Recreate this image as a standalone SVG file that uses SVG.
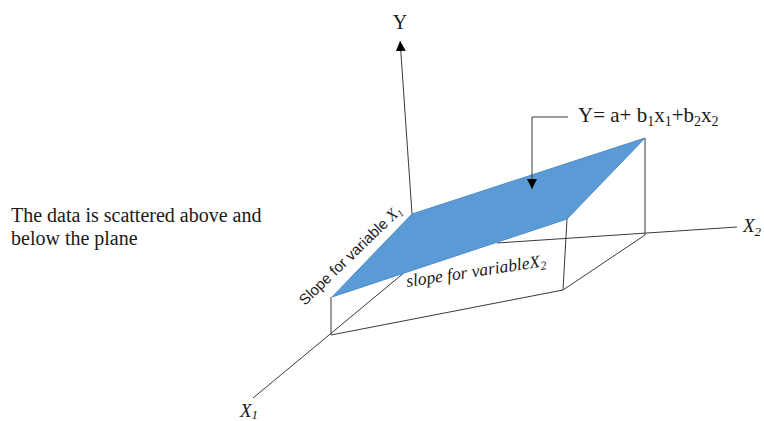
<svg xmlns="http://www.w3.org/2000/svg" width="764" height="421" viewBox="0 0 764 421">
  <style>
    .ln { stroke: #3a3a3a; stroke-width: 1; fill: none; }
    .serif { font-family: "Liberation Serif", "Times New Roman", serif; fill: #1a1a1a; }
    .ital { font-family: "Liberation Serif", "Times New Roman", serif; font-style: italic; fill: #1a1a1a; }
    .sans { font-family: "Liberation Sans", Arial, sans-serif; fill: #1a1a1a; }
    .plane { fill: #5B9BD5; stroke: #4d8cc8; stroke-width: 1; stroke-linejoin: round; }
  </style>
  <defs>
    <marker id="arrow" viewBox="0 0 10 10" refX="10" refY="5" markerWidth="10" markerHeight="10" markerUnits="userSpaceOnUse" orient="auto">
      <path d="M0,0 L10,5 L0,10 Z" fill="#000"/>
    </marker>
  </defs>
  <rect width="764" height="421" fill="#ffffff"/>

  <g id="connectors">
    <!-- Y axis -->
    <line class="ln" x1="412" y1="214" x2="400.1" y2="41" marker-end="url(#arrow)"/>
    <!-- X1 axis -->
    <line class="ln" x1="405" y1="272" x2="253" y2="398"/>
    <!-- X2 axis -->
    <line class="ln" x1="497" y1="243" x2="737" y2="227"/>
    <!-- box lines -->
    <line class="ln" x1="331" y1="297" x2="331" y2="335"/>
    <line class="ln" x1="331" y1="335" x2="563" y2="290"/>
    <line class="ln" x1="567" y1="219" x2="563" y2="290"/>
    <line class="ln" x1="563" y1="290" x2="645" y2="235"/>
    <line class="ln" x1="645" y1="138" x2="645" y2="235"/>
  </g>

  <g id="plane">
    <polygon class="plane" points="332,297 412,214 645,138 567,219"/>
  </g>

  <g id="pointer">
    <polyline class="ln" points="568,117 532,117 532,189" marker-end="url(#arrow)"/>
  </g>

  <g id="label-y">
    <text class="serif" x="400" y="29" font-size="20" text-anchor="middle">Y</text>
  </g>
  <g id="label-x2">
    <text class="ital" x="743" y="232" font-size="19">X<tspan font-size="13" dy="4">2</tspan></text>
  </g>
  <g id="label-x1">
    <text class="ital" x="240" y="417" font-size="19">X<tspan font-size="13" dy="2">1</tspan></text>
  </g>
  <g id="equation">
    <text class="serif" x="578" y="122" font-size="21">Y= a+ b<tspan font-size="14" dy="4">1</tspan><tspan dy="-4">x</tspan><tspan font-size="14" dy="4">1</tspan><tspan dy="-4">+b</tspan><tspan font-size="14" dy="4">2</tspan><tspan dy="-4">x</tspan><tspan font-size="14" dy="4">2</tspan></text>
  </g>
  <g id="note">
    <text class="serif" x="11" y="222" font-size="20">The data is scattered above and</text>
    <text class="serif" x="11" y="245" font-size="20">below the plane</text>
  </g>
  <g id="slope-x1">
    <text class="sans" font-size="15" transform="translate(305,306) rotate(-44)">Slope for variable <tspan class="ital" font-size="16">X</tspan><tspan class="ital" font-size="10" dy="3">1</tspan></text>
  </g>
  <g id="slope-x2">
    <text class="ital" font-size="17.5" transform="translate(407,287) rotate(-8.5)">slope for variable<tspan>X</tspan><tspan font-size="12" dy="3">2</tspan></text>
  </g>
</svg>
